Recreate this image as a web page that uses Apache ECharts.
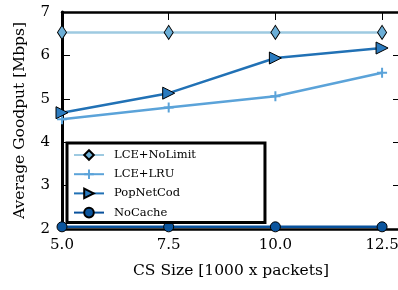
<!DOCTYPE html>
<html>
<head>
<meta charset="utf-8">
<script src="https://cdn.jsdelivr.net/npm/echarts@6/dist/echarts.min.js"></script>
<style>
    html, body { margin: 0; padding: 0; background: #fff; }
    #chart { width: 398px; height: 290px; }
</style>
</head>
<body>
<div id="chart"></div>
<script>
// data
const csSize = [5.0, 7.5, 10.0, 12.5];
const lceNoLimit = [6.53, 6.53, 6.53, 6.53];
const lceLru = [4.53, 4.80, 5.06, 5.60];
const popNetCod = [4.68, 5.13, 5.94, 6.17];
const noCache = [2.05, 2.05, 2.05, 2.05];
const seriesNames = ['LCE+NoLimit', 'LCE+LRU', 'PopNetCod', 'NoCache'];

const font = 'DejaVu Serif';
const pairs = ys => csSize.map((x, i) => [x, ys[i]]);
const plusPath = 'path://M4,0 H6 V4 H10 V6 H6 V10 H4 V6 H0 V4 H4 Z';

let chart = echarts.init(document.getElementById('chart'));

var option = {
    animation: false,
    textStyle: { fontFamily: font, color: '#000' },
    grid: { left: 62, top: 12, right: -2, bottom: 61, outerBoundsMode: 'none' },
    xAxis: [{
        type: 'value',
        min: 5, max: 12.92, interval: 2.5,
        name: 'CS Size [1000 x packets]',
        nameLocation: 'middle',
        nameGap: 34,
        nameTextStyle: { fontFamily: font, fontSize: 15.5, color: '#000' },
        axisLine: { lineStyle: { color: '#000', width: 2.5 } },
        axisTick: { inside: true, length: 7, lineStyle: { color: '#000' } },
        axisLabel: {
            fontFamily: font, fontSize: 15, color: '#000', margin: 9,
            showMaxLabel: false,
            formatter: v => v.toFixed(1)
        },
        splitLine: { show: false }
    }, {
        type: 'value', position: 'top',
        min: 5, max: 12.92, interval: 2.5,
        axisLine: { lineStyle: { color: '#000', width: 2.5 } },
        axisTick: { inside: true, length: 8, lineStyle: { color: '#000' } },
        axisLabel: { show: false },
        splitLine: { show: false }
    }],
    yAxis: [{
        type: 'value',
        min: 2, max: 7, interval: 1,
        name: 'Average Goodput [Mbps]',
        nameLocation: 'middle',
        nameGap: 34,
        nameTextStyle: { fontFamily: font, fontSize: 15.5, color: '#000' },
        axisLine: { show: true, lineStyle: { color: '#000', width: 3 } },
        axisTick: { show: true, inside: true, length: 8, lineStyle: { color: '#000' } },
        axisLabel: { fontFamily: font, fontSize: 15, color: '#000', margin: 12 },
        splitLine: { show: false }
    }, {
        type: 'value', position: 'right',
        min: 2, max: 7, interval: 1,
        axisLine: { show: true, lineStyle: { color: '#000', width: 2.5 } },
        axisTick: { show: true, inside: true, length: 7, lineStyle: { color: '#000' } },
        axisLabel: { show: false },
        splitLine: { show: false }
    }],
    legend: {
        orient: 'vertical',
        left: 67, top: 143,
        padding: [6, 69, 4, 6],
        itemGap: 7.2,
        itemWidth: 30,
        itemHeight: 12,
        backgroundColor: '#fff',
        borderColor: '#000',
        borderWidth: 3,
        borderRadius: 0,
        selectedMode: false,
        textStyle: { fontFamily: font, fontSize: 11.5, color: '#000', padding: [0, 0, 0, 5] },
        data: seriesNames
    },
    series: [{
        name: seriesNames[0],
        type: 'line',
        data: pairs(lceNoLimit),
        symbol: 'diamond',
        symbolSize: [9, 14],
        lineStyle: { color: '#9ecae1', width: 2.5 },
        itemStyle: { color: '#6baed6', borderColor: '#000', borderWidth: 1 }
    }, {
        name: seriesNames[1],
        type: 'line',
        data: pairs(lceLru),
        symbol: plusPath,
        symbolSize: 10,
        lineStyle: { color: '#5ba3d9', width: 2.5 },
        itemStyle: { color: '#5ba3d9', borderWidth: 0 }
    }, {
        name: seriesNames[2],
        type: 'line',
        data: pairs(popNetCod),
        symbol: 'triangle',
        symbolRotate: -90,
        symbolSize: 12,
        lineStyle: { color: '#2171b5', width: 2.5 },
        itemStyle: { color: '#2b7bbf', borderColor: '#000', borderWidth: 1 }
    }, {
        name: seriesNames[3],
        type: 'line',
        data: pairs(noCache),
        symbol: 'circle',
        symbolSize: 10,
        lineStyle: { color: '#08519c', width: 2.5 },
        itemStyle: { color: '#0b559e', borderColor: '#000', borderWidth: 1 }
    }]
};

chart.setOption(option);
</script>
</body>
</html>
